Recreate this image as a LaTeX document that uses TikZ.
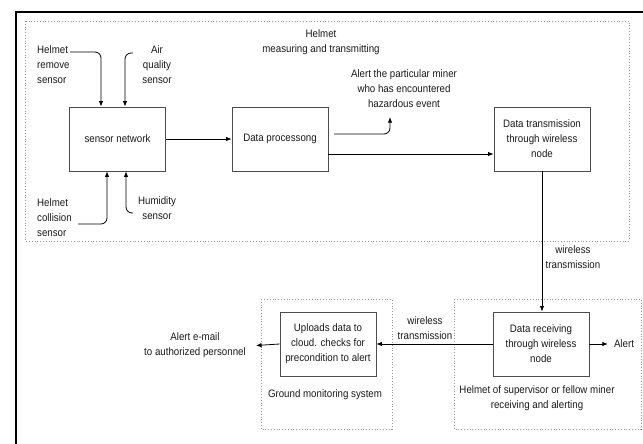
\documentclass[tikz,border=0pt]{standalone}
\usepackage{fontspec}
\setmainfont[FakeStretch=0.9]{Liberation Sans}
\usetikzlibrary{arrows.meta}

\tikzset{
  box/.style={draw=black!70, line width=0.9pt, minimum width=96pt, minimum height=64pt, align=center, inner sep=0pt},
  lbl/.style={align=center, inner sep=0pt},
  arr/.style={-{Latex[length=5.5pt,width=4.5pt]}, line width=0.8pt},
  zone/.style={draw=black!40, dotted, line width=0.8pt},
}

\begin{document}
\begin{tikzpicture}[x=1pt,y=-1pt,font=\fontsize{10.8}{15}\selectfont,text=black!90]

  \useasboundingbox (0,0) rectangle (643,444);

  % frame and zones
  \draw[line width=1.4pt] (16,444) -- (16,12) -- (643,12);
  \draw[zone] (25,21) rectangle (629,241);
  \draw[zone] (261,299) rectangle (392,429);
  \draw[zone] (454,299) rectangle (641,429);

  % Nodes
  \node[box] at(117.5,139)(sn){sensor network};
  \node[box] at(280,139)(dp){Data processong};
  \node[box] at(542,139)(dt){Data transmission\\through wireless\\node};
  \node[box] at(541,344)(dr){Data receiving\\through wireless\\node};
  \node[box] at(328,344)(up){Uploads data to\\cloud. checks for\\precondition to alert};

  \node[lbl, align=left, anchor=west] at(37,65)(hr){Helmet\\remove\\sensor};
  \node[lbl] at(157,65)(aq){Air\\quality\\sensor};
  \node[lbl, align=left, anchor=west] at(37,218)(hc){Helmet\\collision\\sensor};
  \node[lbl] at(157,208.5)(hu){Humidity\\sensor};

  \node[lbl] at(321,42)(hm){Helmet\\measuring and transmitting};
  \node[lbl] at(404,89)(am){Alert the particular miner\\who has encountered\\hazardous event};
  \node[lbl] at(573,257.5)(w1){wireless\\transmission};
  \node[lbl] at(425,328)(w2){wireless\\transmission};
  \node[lbl] at(624,344)(al){Alert};
  \node[lbl] at(195,345.5)(em){Alert e-mail\\to authorized personnel};
  \node[lbl] at(325,395)(gm){Ground monitoring system};
  \node[lbl] at(537,398.5)(hs){Helmet of supervisor or fellow miner\\receiving and alerting};

  \coordinate (s1) at(70,52);
  \coordinate (s2) at(133,53);
  \coordinate (s3) at(78,224);
  \coordinate (s4) at(133,213);
  \coordinate (s5) at(334,134);

  % sensor inputs
  \draw[arr, rounded corners=6pt] (s1) -| ([xshift=-16.5pt]sn.north);
  \draw[arr, rounded corners=6pt] (s2) -| ([xshift=7.5pt]sn.north);
  \draw[arr, rounded corners=6pt] (s3) -| ([xshift=-10.5pt]sn.south);
  \draw[arr, rounded corners=6pt] (s4) -| ([xshift=8.5pt]sn.south);

  % data flow
  \draw[arr] (sn.east) -- (dp.west);
  \draw[arr, rounded corners=6pt] (s5) -| ([xshift=-14pt,yshift=-9pt]am.south);
  \draw[arr] ([yshift=-15pt]dp.east) -- ([yshift=-15pt]dt.west);
  \draw[arr] (dt.south) -- (dt.south |- dr.north);
  \draw[arr] (dr.west) -- (up.east);
  \draw[arr] (dr.east) -- ([xshift=-6pt]al.west);
  \draw[arr] (up.west) -- ([xshift=10pt]em.east);

\end{tikzpicture}
\end{document}
